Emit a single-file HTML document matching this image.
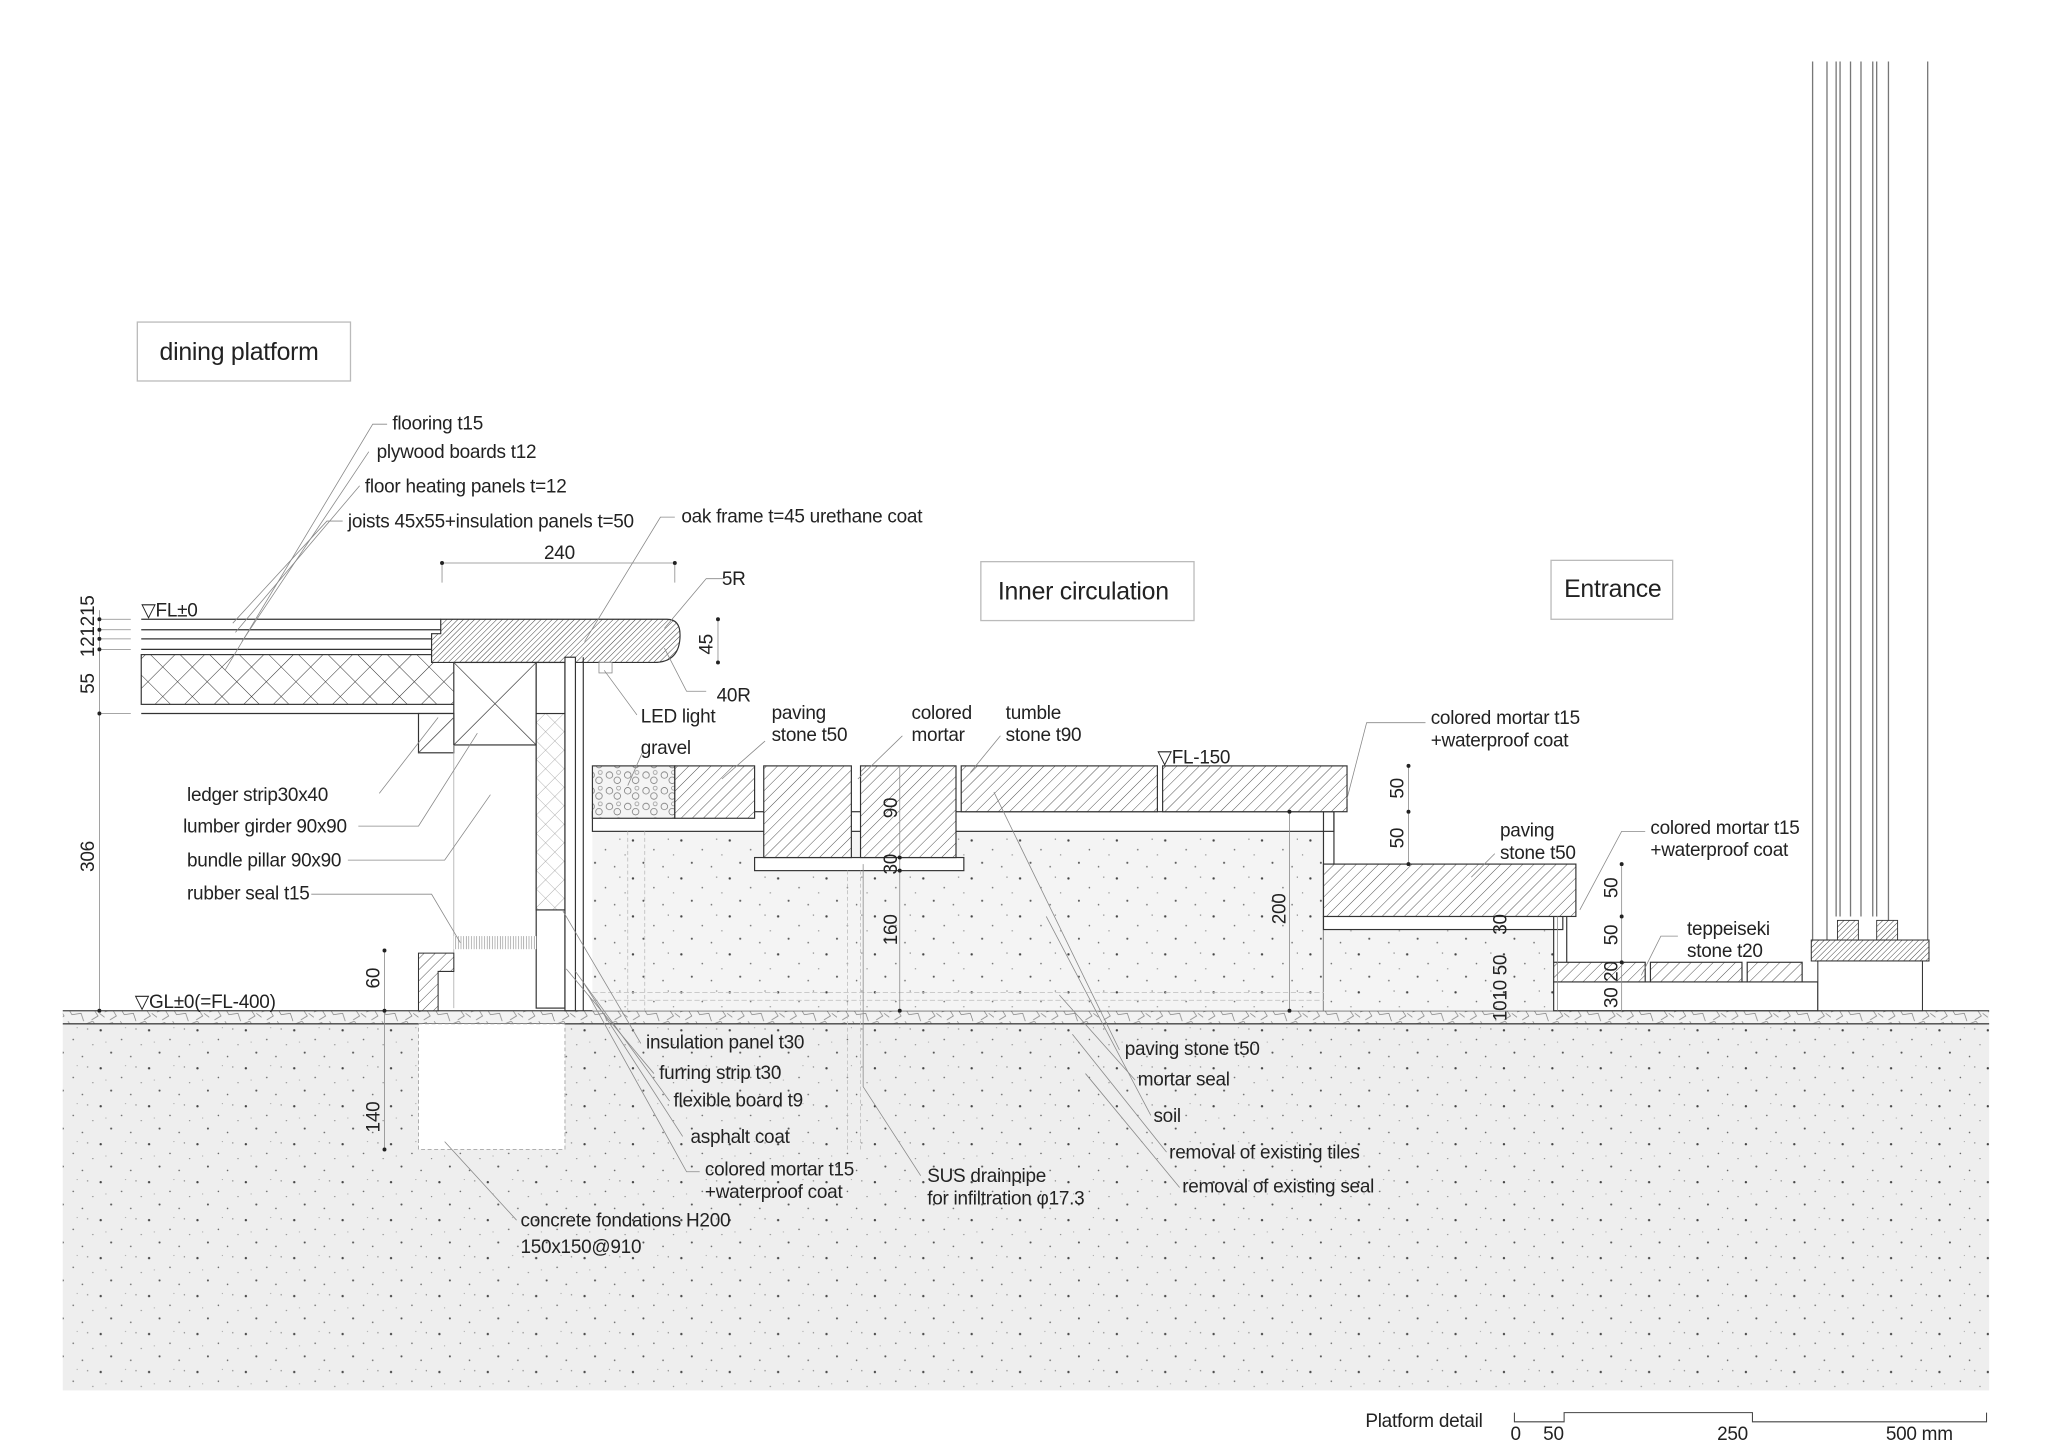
<!DOCTYPE html>
<html><head><meta charset="utf-8"><style>
html,body{margin:0;padding:0;background:#fff;}
svg{display:block}
text{font-family:"Liberation Sans",sans-serif;fill:#222;letter-spacing:-0.2px}
</style></head><body>
<svg width="2048" height="1448" viewBox="0 0 1566 1106" preserveAspectRatio="none" xmlns="http://www.w3.org/2000/svg">
<defs>
<pattern id="dots" width="37" height="29" patternUnits="userSpaceOnUse">
<rect width="37" height="29" fill="#eeeeee"/>
<circle cx="3" cy="4" r="0.9" fill="#444"/><circle cx="19" cy="11" r="0.6" fill="#666"/>
<circle cx="30" cy="3" r="0.5" fill="#777"/><circle cx="11" cy="21" r="0.8" fill="#555"/>
<circle cx="26" cy="24" r="0.6" fill="#666"/><circle cx="34" cy="15" r="0.5" fill="#888"/>
<circle cx="7" cy="13" r="0.4" fill="#888"/><circle cx="22" cy="2" r="0.4" fill="#888"/>
</pattern>
<pattern id="dotsw" width="37" height="29" patternUnits="userSpaceOnUse">
<rect width="37" height="29" fill="#f4f4f4"/>
<circle cx="3" cy="4" r="0.9" fill="#444"/><circle cx="19" cy="11" r="0.6" fill="#666"/>
<circle cx="30" cy="3" r="0.5" fill="#777"/><circle cx="11" cy="21" r="0.8" fill="#555"/>
<circle cx="26" cy="24" r="0.6" fill="#666"/><circle cx="34" cy="15" r="0.5" fill="#888"/>
</pattern>
<pattern id="hatch" width="6" height="6" patternUnits="userSpaceOnUse" patternTransform="rotate(45)">
<rect width="6" height="6" fill="#fff"/><line x1="0" y1="0" x2="0" y2="6" stroke="#444" stroke-width="0.7"/>
</pattern>
<pattern id="hatchd" width="3" height="3" patternUnits="userSpaceOnUse" patternTransform="rotate(45)">
<rect width="3" height="3" fill="#fff"/><line x1="0" y1="0" x2="0" y2="3" stroke="#333" stroke-width="0.7"/>
</pattern>
<pattern id="cross" width="16" height="16" patternUnits="userSpaceOnUse" patternTransform="rotate(45)">
<rect width="16" height="16" fill="#fff"/><path d="M0 0V16M0 0H16" stroke="#333" stroke-width="0.8"/>
</pattern>
<pattern id="crossl" width="10" height="10" patternUnits="userSpaceOnUse" patternTransform="rotate(45)">
<rect width="10" height="10" fill="#fff"/><path d="M0 0V10M0 0H10" stroke="#999" stroke-width="0.6"/>
</pattern>
<pattern id="gravel" width="14" height="12" patternUnits="userSpaceOnUse">
<rect width="14" height="12" fill="#f4f4f4"/>
<circle cx="4" cy="4" r="2.5" fill="none" stroke="#666" stroke-width="0.5"/>
<circle cx="10" cy="8" r="2.5" fill="none" stroke="#666" stroke-width="0.5"/>
<circle cx="11" cy="2" r="1.5" fill="none" stroke="#888" stroke-width="0.5"/>
</pattern>
<pattern id="crush" width="40" height="10" patternUnits="userSpaceOnUse">
<rect width="40" height="10" fill="#f2f2f2"/>
<path d="M0 3L6 1 9 6 4 9M12 0L15 5 22 4 24 10M26 2L31 0 35 6 30 9M36 4L40 7" fill="none" stroke="#777" stroke-width="0.5"/>
</pattern>
<pattern id="vert" width="2" height="4" patternUnits="userSpaceOnUse"><rect width="2" height="4" fill="#fff"/><line x1="0.5" y1="0" x2="0.5" y2="4" stroke="#777" stroke-width="0.4"/></pattern>
</defs>

<rect x="48" y="782" width="1473" height="280" fill="url(#dots)"/>
<rect x="48" y="772" width="1473" height="10" fill="url(#crush)"/>
<line x1="48" y1="772" x2="1521" y2="772" stroke="#444" stroke-width="1"/>
<line x1="48" y1="782" x2="1521" y2="782" stroke="#444" stroke-width="1"/>
<rect x="320" y="782" width="112" height="96" fill="#fff"/>
<rect x="320" y="782" width="112" height="96" fill="none" stroke="#999" stroke-width="0.6" stroke-dasharray="3 2"/>

<rect x="105" y="246" width="163" height="45" fill="#fff" stroke="#bbb"/>
<text x="122" y="275" font-size="19">dining platform</text>
<rect x="750" y="429" width="163" height="45" fill="#fff" stroke="#bbb"/>
<text x="763" y="458" font-size="19">Inner circulation</text>
<rect x="1186" y="428" width="93" height="45" fill="#fff" stroke="#bbb"/>
<text x="1196" y="456" font-size="19">Entrance</text>

<g stroke="#333" stroke-width="0.9" fill="none">
<line x1="108" y1="473" x2="337" y2="473"/>
<line x1="108" y1="481" x2="337" y2="481"/>
<line x1="108" y1="488" x2="330" y2="488"/>
<line x1="108" y1="496" x2="330" y2="496"/>
<line x1="108" y1="545" x2="348" y2="545"/>
</g>
<rect x="108" y="500" width="240" height="38" fill="url(#cross)" stroke="#333" stroke-width="0.9"/>
<path d="M337 473 H510 Q520 473 520 485 Q520 506 500 506 H330 V484 H337 Z" fill="url(#hatchd)" stroke="#333" stroke-width="0.9"/>
<rect x="347" y="506" width="63" height="63" fill="#fff" stroke="#333" stroke-width="0.9"/>
<path d="M347 506L410 569M410 506L347 569" stroke="#555" stroke-width="0.6"/>
<rect x="320" y="545" width="27" height="30" fill="#fff" stroke="#333" stroke-width="0.9"/>
<line x1="320" y1="575" x2="347" y2="548" stroke="#555" stroke-width="0.6"/>
<line x1="347" y1="569" x2="347" y2="770" stroke="#aaa" stroke-width="0.6"/>
<rect x="410" y="506" width="22" height="264" fill="#fff" stroke="#333" stroke-width="0.9"/>
<rect x="410" y="545" width="22" height="150" fill="url(#crossl)" stroke="#333" stroke-width="0.9"/>
<rect x="432" y="502" width="8" height="270" fill="#fff" stroke="#333" stroke-width="0.9"/>
<line x1="446" y1="502" x2="446" y2="772" stroke="#333" stroke-width="0.9"/>
<rect x="458" y="506" width="10" height="8" fill="#fff" stroke="#888" stroke-width="0.6"/>
<rect x="347" y="715" width="63" height="10" fill="url(#vert)"/>
<path d="M320 728 H347 V742 L335 742 V772 H320 Z" fill="url(#hatch)" stroke="#333" stroke-width="0.8"/>

<rect x="453" y="635" width="559" height="137" fill="url(#dotsw)"/>
<rect x="453" y="620" width="567" height="15" fill="#fff" stroke="#333" stroke-width="0.9"/>
<rect x="453" y="585" width="63" height="40" fill="url(#gravel)" stroke="#333" stroke-width="0.9"/>
<rect x="516" y="585" width="61" height="40" fill="url(#hatch)" stroke="#333" stroke-width="0.9"/>
<rect x="577" y="655" width="160" height="10" fill="#fff" stroke="#333" stroke-width="0.9"/>
<rect x="584" y="585" width="67" height="70" fill="url(#hatch)" stroke="#333" stroke-width="0.9"/>
<rect x="658" y="585" width="73" height="70" fill="url(#hatch)" stroke="#333" stroke-width="0.9"/>
<rect x="735" y="585" width="150" height="35" fill="url(#hatch)" stroke="#333" stroke-width="0.9"/>
<rect x="889" y="585" width="141" height="35" fill="url(#hatch)" stroke="#333" stroke-width="0.9"/>
<line x1="1012" y1="620" x2="1012" y2="772" stroke="#333" stroke-width="0.9"/>
<line x1="1020" y1="620" x2="1020" y2="660" stroke="#333" stroke-width="0.9"/>
<line x1="453" y1="758" x2="1012" y2="758" stroke="#bbb" stroke-width="0.6" stroke-dasharray="4 2"/>
<line x1="453" y1="764" x2="1012" y2="764" stroke="#bbb" stroke-width="0.6" stroke-dasharray="4 2"/>

<rect x="1012" y="710" width="176" height="62" fill="url(#dotsw)"/>
<rect x="1012" y="700" width="183" height="10" fill="#fff" stroke="#333" stroke-width="0.9"/>
<rect x="1012" y="660" width="193" height="40" fill="url(#hatch)" stroke="#333" stroke-width="0.9"/>
<line x1="1188" y1="700" x2="1188" y2="735" stroke="#333" stroke-width="0.9"/>
<line x1="1198" y1="700" x2="1198" y2="735" stroke="#333" stroke-width="0.9"/>
<rect x="1188" y="750" width="202" height="22" fill="#fff" stroke="#333" stroke-width="0.9"/>
<rect x="1188" y="735" width="70" height="15" fill="url(#hatch)" stroke="#333" stroke-width="0.9"/>
<rect x="1262" y="735" width="70" height="15" fill="url(#hatch)" stroke="#333" stroke-width="0.9"/>
<rect x="1336" y="735" width="42" height="15" fill="url(#hatch)" stroke="#333" stroke-width="0.9"/>

<g stroke="#777" stroke-width="1">
<line x1="1386" y1="47" x2="1386" y2="718"/><line x1="1397" y1="47" x2="1397" y2="718"/>
<line x1="1404" y1="47" x2="1404" y2="700"/><line x1="1407" y1="47" x2="1407" y2="700"/>
<line x1="1415" y1="47" x2="1415" y2="700"/><line x1="1423" y1="47" x2="1423" y2="700"/>
<line x1="1432" y1="47" x2="1432" y2="700"/><line x1="1435" y1="47" x2="1435" y2="700"/>
<line x1="1444" y1="47" x2="1444" y2="718"/><line x1="1474" y1="47" x2="1474" y2="718"/>
</g>
<rect x="1405" y="703" width="16" height="15" fill="url(#hatchd)" stroke="#333" stroke-width="0.7"/>
<rect x="1435" y="703" width="16" height="15" fill="url(#hatchd)" stroke="#333" stroke-width="0.7"/>
<rect x="1385" y="718" width="90" height="16" fill="url(#hatchd)" stroke="#333" stroke-width="0.8"/>
<rect x="1390" y="734" width="80" height="38" fill="#fff" stroke="#333" stroke-width="0.8"/>

<g stroke="#888" stroke-width="0.6" fill="none">
<line x1="76" y1="466" x2="76" y2="772"/>
<line x1="76" y1="473" x2="100" y2="473"/><line x1="76" y1="481" x2="100" y2="481"/>
<line x1="76" y1="488" x2="100" y2="488"/><line x1="76" y1="496" x2="100" y2="496"/>
<line x1="76" y1="545" x2="100" y2="545"/>
<line x1="338" y1="430" x2="516" y2="430"/><line x1="338" y1="430" x2="338" y2="445"/><line x1="516" y1="430" x2="516" y2="445"/>
<line x1="549" y1="473" x2="549" y2="506"/>
<line x1="294" y1="726" x2="294" y2="878"/>
<line x1="1077" y1="585" x2="1077" y2="660"/>
<line x1="1240" y1="660" x2="1240" y2="772"/>
<line x1="1191" y1="700" x2="1191" y2="772"/>
<line x1="688" y1="585" x2="688" y2="772"/>
<line x1="986" y1="620" x2="986" y2="772"/>
</g>
<g fill="#222">
<circle cx="76" cy="473" r="1.5"/><circle cx="76" cy="481" r="1.5"/><circle cx="76" cy="488" r="1.5"/><circle cx="76" cy="496" r="1.5"/><circle cx="76" cy="545" r="1.5"/><circle cx="76" cy="772" r="1.5"/>
<circle cx="338" cy="430" r="1.5"/><circle cx="516" cy="430" r="1.5"/>
<circle cx="549" cy="473" r="1.5"/><circle cx="549" cy="506" r="1.5"/>
<circle cx="294" cy="726" r="1.5"/><circle cx="294" cy="772" r="1.5"/><circle cx="294" cy="878" r="1.5"/>
<circle cx="1077" cy="585" r="1.5"/><circle cx="1077" cy="620" r="1.5"/><circle cx="1077" cy="660" r="1.5"/>
<circle cx="1240" cy="660" r="1.5"/><circle cx="1240" cy="700" r="1.5"/><circle cx="1240" cy="735" r="1.5"/>
<circle cx="688" cy="655" r="1.5"/><circle cx="688" cy="665" r="1.5"/><circle cx="688" cy="772" r="1.5"/>
<circle cx="986" cy="620" r="1.5"/><circle cx="986" cy="772" r="1.5"/>
</g>
<g font-size="14.5">
<text transform="translate(72,530) rotate(-90)">55</text>
<text transform="translate(72,666) rotate(-90)">306</text>
<text transform="translate(72,502) rotate(-90)">121215</text>
<text x="416" y="427">240</text>
<text transform="translate(545,500) rotate(-90)">45</text>
<text x="552" y="447">5R</text>
<text x="548" y="536">40R</text>
<text transform="translate(290,755) rotate(-90)">60</text>
<text transform="translate(290,865) rotate(-90)">140</text>
<text transform="translate(686,625) rotate(-90)">90</text>
<text transform="translate(686,668) rotate(-90)">30</text>
<text transform="translate(686,722) rotate(-90)">160</text>
<text transform="translate(983,706) rotate(-90)">200</text>
<text transform="translate(1073,610) rotate(-90)">50</text>
<text transform="translate(1073,648) rotate(-90)">50</text>
<text transform="translate(1237,686) rotate(-90)">50</text>
<text transform="translate(1237,722) rotate(-90)">50</text>
<text transform="translate(1237,750) rotate(-90)">20</text>
<text transform="translate(1237,770) rotate(-90)">30</text>
<text transform="translate(1152,714) rotate(-90)">30</text>
<text transform="translate(1152,745) rotate(-90)">50</text>
<text transform="translate(1152,780) rotate(-90)">1010</text>
<text x="108" y="471">▽FL±0</text>
<text x="885" y="583">▽FL-150</text>
<text x="103" y="770">▽GL±0(=FL-400)</text>
</g>

<g stroke="#888" stroke-width="0.6" fill="none">
<path d="M296 324 H285 L172 512"/><path d="M282 345 L185 490"/><path d="M275 371 L180 483"/><path d="M262 398 H250 L178 476"/>
<path d="M516 395 H505 L447 490"/>
<path d="M553 442 H540 L508 480"/><path d="M540 528 H525 L508 495"/>
<path d="M487 546 L462 512"/>
<path d="M492 573 L480 600"/>
<path d="M585 566 L552 595"/><path d="M690 562 L656 595"/><path d="M765 562 L742 590"/>
<path d="M290 606 L335 548"/><path d="M274 631 H320 L365 560"/><path d="M266 657 H340 L375 607"/><path d="M238 683 H330 L352 720"/>
<path d="M1090 552 H1045 L1030 610"/>
<path d="M1258 635 H1240 L1208 695"/>
<path d="M1283 715 H1270 L1255 745"/>
<path d="M1143 652 L1125 670"/>
<path d="M490 797 L430 695"/><path d="M500 820 L433 740"/><path d="M512 841 L440 742"/><path d="M522 868 L447 752"/><path d="M535 895 H525 L450 760"/>
<path d="M704 898 L660 830 L660 660"/>
<path d="M856 802 L760 605"/><path d="M868 825 L810 760"/><path d="M880 852 L800 700"/><path d="M892 880 L820 790"/><path d="M902 907 L830 820"/>
<path d="M395 932 L340 872"/>
<line x1="480" y1="635" x2="480" y2="772" stroke-dasharray="3 2" stroke="#bbb"/>
<line x1="493" y1="635" x2="493" y2="772" stroke-dasharray="3 2" stroke="#bbb"/>
<line x1="648" y1="665" x2="648" y2="880" stroke-dasharray="3 2" stroke="#bbb"/>
<line x1="658" y1="665" x2="658" y2="880" stroke-dasharray="3 2" stroke="#bbb"/>
</g>

<g font-size="14.5">
<text x="300" y="328">flooring t15</text>
<text x="288" y="350">plywood boards t12</text>
<text x="279" y="376">floor heating panels t=12</text>
<text x="266" y="403">joists 45x55+insulation panels t=50</text>
<text x="521" y="399">oak frame t=45 urethane coat</text>
<text x="490" y="552">LED light</text>
<text x="490" y="576">gravel</text>
<text x="590" y="549">paving</text><text x="590" y="566">stone t50</text>
<text x="697" y="549">colored</text><text x="697" y="566">mortar</text>
<text x="769" y="549">tumble</text><text x="769" y="566">stone t90</text>
<text x="1094" y="553">colored mortar t15</text><text x="1094" y="570">+waterproof coat</text>
<text x="1147" y="639">paving</text><text x="1147" y="656">stone t50</text>
<text x="1262" y="637">colored mortar t15</text><text x="1262" y="654">+waterproof coat</text>
<text x="1290" y="714">teppeiseki</text><text x="1290" y="731">stone t20</text>
<text x="143" y="612">ledger strip30x40</text>
<text x="140" y="636">lumber girder 90x90</text>
<text x="143" y="662">bundle pillar 90x90</text>
<text x="143" y="687">rubber seal t15</text>
<text x="494" y="801">insulation panel t30</text>
<text x="504" y="824">furring strip t30</text>
<text x="515" y="845">flexible board t9</text>
<text x="528" y="873">asphalt coat</text>
<text x="539" y="898">colored mortar t15</text><text x="539" y="915">+waterproof coat</text>
<text x="709" y="903">SUS drainpipe</text><text x="709" y="920">for infiltration φ17.3</text>
<text x="398" y="937">concrete fondations H200</text><text x="398" y="957">150x150@910</text>
<text x="860" y="806">paving stone t50</text>
<text x="870" y="829">mortar seal</text>
<text x="882" y="857">soil</text>
<text x="894" y="885">removal of existing tiles</text>
<text x="904" y="911">removal of existing seal</text>
<text x="1044" y="1090">Platform detail</text>
<text x="1155" y="1100">0</text><text x="1180" y="1100">50</text><text x="1313" y="1100">250</text><text x="1442" y="1100">500 mm</text>
</g>
<path d="M1158 1079 V1086 H1196 V1079 H1340 V1086 H1519 V1079" fill="none" stroke="#444" stroke-width="0.8"/>
</svg>
</body></html>
